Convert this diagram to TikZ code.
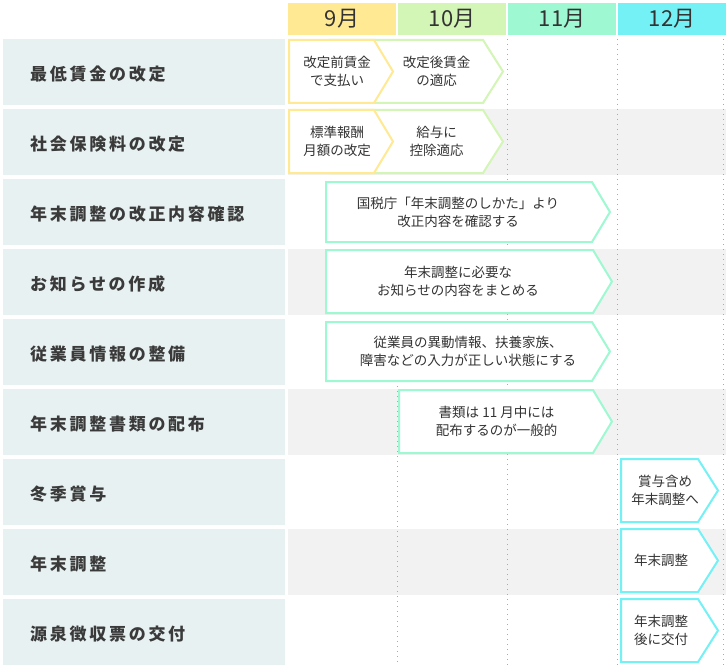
\documentclass[tikz,border=0pt]{standalone}
\usepackage{fontspec}
\setmainfont{Noto Sans CJK JP}
\newfontfamily\lblfont[LetterSpace=16]{Noto Sans CJK JP}
\definecolor{cyel}{HTML}{FFE993}
\definecolor{cgrn}{HTML}{D3F5B5}
\definecolor{cmint}{HTML}{9EF8D1}
\definecolor{ccyan}{HTML}{74F1F5}
\definecolor{lblbg}{HTML}{E8F1F2}
\definecolor{rowgray}{HTML}{F2F2F2}
\definecolor{txt}{HTML}{333333}
\definecolor{lbltxt}{HTML}{3A3A3A}
\definecolor{dotc}{HTML}{AAAAAA}
\newcommand\chevpath[6]{\draw[chev,draw=#1] (#2,#3) -- (#4,#3) -- (#6,{(#3+#5)/2}) -- (#4,#5) -- (#2,#5) -- cycle;}
\begin{document}
\begin{tikzpicture}[x=1pt,y=-1pt,
  chev/.style={line width=2pt,fill=white},
  ctext/.style={text=txt,align=center,inner sep=0pt,font={\fontsize{13.5}{18}\selectfont}},
  lbl/.style={text=lbltxt,anchor=west,inner sep=0pt,font={\lblfont\bfseries\fontsize{17}{20}\selectfont}},
  mon/.style={text=txt,inner sep=0pt,minimum width=108pt,minimum height=32pt,font={\fontsize{22}{24}\selectfont}},
  dotl/.style={draw=dotc,line width=1pt,dash pattern=on 1pt off 4pt}]
\useasboundingbox (0,0) rectangle (728,666);
\fill[white] (0,0) rectangle (728,666);
% header
\node[mon,fill=cyel] (m9) at (342,19) {9月};
\node[mon,fill=cgrn] (m10) at (452,19) {10月};
\node[mon,fill=cmint] (m11) at (562,19) {11月};
\node[mon,fill=ccyan] (m12) at (672,19) {12月};
% label boxes
\foreach \k in {0,...,8} {\fill[lblbg] (3,{39+70*\k}) rectangle (285,{105+70*\k});}
% gray rows
\foreach \k in {1,3,5,7} {\fill[rowgray] (288,{39+70*\k}) rectangle (726,{105+70*\k});}
% dotted lines
\draw[dotl] (397,386) -- (397,666);
\draw[dotl] (507,39) -- (507,666);
\draw[dotl] (617,39) -- (617,666);
\draw[dotl] (723.5,39) -- (723.5,666);
% labels
\node[lbl] (l1) at (30,74) {最低賃金の改定};
\node[lbl] (l2) at (30,144) {社会保険料の改定};
\node[lbl] (l3) at (30,214) {年末調整の改正内容確認};
\node[lbl] (l4) at (30,284) {お知らせの作成};
\node[lbl] (l5) at (30,354) {従業員情報の整備};
\node[lbl] (l6) at (30,424) {年末調整書類の配布};
\node[lbl] (l7) at (30,494) {冬季賞与};
\node[lbl] (l8) at (30,564) {年末調整};
\node[lbl] (l9) at (30,634) {源泉徴収票の交付};
% row 1
\chevpath{cgrn}{330}{40}{483}{103}{503}
\chevpath{cyel}{289}{40}{374}{103}{393}
\node[ctext] (t1a) at (337,71.5) {改定前賃金\\で支払い};
\node[ctext] (t1b) at (436.5,71.5) {改定後賃金\\の適応};
% row 2
\chevpath{cgrn}{330}{110}{483}{173}{503}
\chevpath{cyel}{289}{110}{374}{173}{393}
\node[ctext] (t2a) at (337,141.5) {標準報酬\\月額の改定};
\node[ctext] (t2b) at (436.5,141.5) {給与に\\控除適応};
% row 3
\chevpath{cmint}{326}{182}{592}{242}{610}
\node[ctext] (t3) at (458,212) {国税庁「年末調整のしかた」より\\改正内容を確認する};
% row 4
\chevpath{cmint}{326}{250}{593}{313}{612}
\node[ctext] (t4) at (458,281.5) {年末調整に必要な\\お知らせの内容をまとめる};
% row 5
\chevpath{cmint}{326}{322}{592}{381}{610}
\node[ctext] (t5) at (468,351.5) {従業員の異動情報、扶養家族、\\障害などの入力が正しい状態にする};
% row 6
\chevpath{cmint}{399}{390}{593}{453}{612}
\node[ctext] (t6) at (496.5,421.5) {書類は 11 月中には\\配布するのが一般的};
% rows 7-9
\chevpath{ccyan}{621}{459}{698}{522}{718}
\node[ctext] (t7) at (665,490.5) {賞与含め\\年末調整へ};
\chevpath{ccyan}{621}{529}{698}{592}{718}
\node[ctext] (t8) at (661,560.5) {年末調整};
\chevpath{ccyan}{621}{599}{698}{662}{718}
\node[ctext] (t9) at (661,630.5) {年末調整\\後に交付};
\end{tikzpicture}
\end{document}
